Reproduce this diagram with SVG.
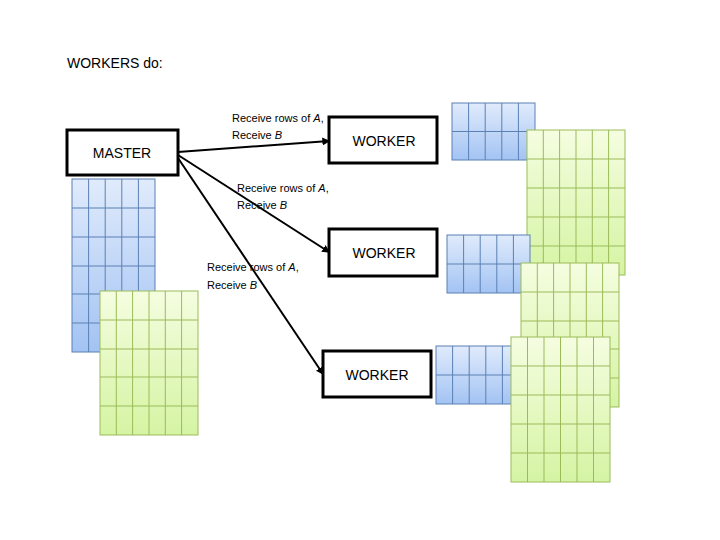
<svg xmlns="http://www.w3.org/2000/svg" width="720" height="540" viewBox="0 0 720 540">
<defs>
<linearGradient id="gb" x1="0" y1="0" x2="0" y2="1"><stop offset="0" stop-color="#e0ebfc"/><stop offset="1" stop-color="#a3c3f3"/></linearGradient>
<linearGradient id="gg" x1="0" y1="0" x2="0" y2="1"><stop offset="0" stop-color="#f5fde0"/><stop offset="1" stop-color="#d5f4a3"/></linearGradient>
<marker id="ar" viewBox="0 0 6 6" refX="5" refY="3" markerWidth="4" markerHeight="4" orient="auto"><path d="M0,0L6,3L0,6z" fill="#000"/></marker>
<pattern id="pb" width="16.6" height="29" patternUnits="userSpaceOnUse"><path d="M16.6,0V29M0,29H16.6" stroke="#5b80b4" stroke-width="1" fill="none"/></pattern>
</defs>
<style>
text{font-family:"Liberation Sans",Arial,sans-serif;fill:#000}
.box{fill:#fff;stroke:#000;stroke-width:3}
.bt{font-size:14px;text-anchor:middle}
.lb{font-size:11px}
.b{fill:url(#gb);stroke:#5b80b4;stroke-width:1}
.g{fill:url(#gg);stroke:#9bbb59;stroke-width:1}
.bl{stroke:#5b80b4;stroke-width:1}
.gl{stroke:#9bbb59;stroke-width:1}
.c{stroke:#000;stroke-width:2;fill:none;marker-end:url(#ar)}
</style>
<text x="67" y="68" font-size="14">WORKERS do:</text>

<g id="master-matrices">
<rect class="b" x="72" y="179" width="83" height="173"/>
<g class="bl"><path d="M88.6,179V352M105.2,179V352M121.8,179V352M138.4,179V352M72,208H155M72,237H155M72,266H155M72,294H155M72,323H155"/></g>
<rect class="g" x="100" y="291" width="98" height="144"/>
<g class="gl"><path d="M116.3,291V435M132.6,291V435M149,291V435M165.3,291V435M181.6,291V435M100,320H198M100,349H198M100,377H198M100,406H198"/></g>
</g>

<g id="master"><rect class="box" x="67" y="130" width="111" height="45"/><text class="bt" x="122" y="158">MASTER</text></g>

<g id="connectors">
<line class="c" x1="178" y1="152" x2="329" y2="141"/>
<line class="c" x1="178" y1="155" x2="329" y2="252"/>
<line class="c" x1="178" y1="158" x2="323" y2="374"/>
</g>
<g id="labels" class="lb">
<text class="lb" x="232" y="122">Receive rows of <tspan font-style="italic">A</tspan>,</text>
<text class="lb" x="232" y="139">Receive <tspan font-style="italic">B</tspan></text>
<text class="lb" x="237" y="192">Receive rows of <tspan font-style="italic">A</tspan>,</text>
<text class="lb" x="237" y="209">Receive <tspan font-style="italic">B</tspan></text>
<text class="lb" x="207" y="271">Receive rows of <tspan font-style="italic">A</tspan>,</text>
<text class="lb" x="207" y="289">Receive <tspan font-style="italic">B</tspan></text>
</g>

<g id="worker1">
<rect class="box" x="329" y="117" width="108" height="46"/><text class="bt" x="384" y="146">WORKER</text>
<rect class="b" x="452" y="103" width="83" height="57"/>
<g class="bl"><path d="M468.6,103V160M485.2,103V160M501.8,103V160M518.4,103V160M452,131.5H535"/></g>
<rect class="g" x="527" y="130" width="98" height="145"/>
<g class="gl"><path d="M543.3,130V275M559.6,130V275M576,130V275M592.3,130V275M608.6,130V275M527,159H625M527,188H625M527,217H625M527,246H625"/></g>
</g>

<g id="worker2">
<rect class="box" x="329" y="229" width="108" height="47"/><text class="bt" x="384" y="258">WORKER</text>
<rect class="b" x="447" y="235" width="83" height="58"/>
<g class="bl"><path d="M463.6,235V293M480.2,235V293M496.8,235V293M513.4,235V293M447,264H530"/></g>
<rect class="g" x="521" y="263" width="98" height="144"/>
<g class="gl"><path d="M537.3,263V407M553.6,263V407M570,263V407M586.3,263V407M602.6,263V407M521,292H619M521,321H619M521,349H619M521,378H619"/></g>
</g>

<g id="worker3">
<rect class="box" x="323" y="351" width="108" height="46"/><text class="bt" x="377" y="380">WORKER</text>
<rect class="b" x="436" y="346" width="83" height="58"/>
<g class="bl"><path d="M452.6,346V404M469.2,346V404M485.8,346V404M502.4,346V404M436,375H519"/></g>
<rect class="g" x="511" y="337" width="99" height="145"/>
<g class="gl"><path d="M527.5,337V482M544,337V482M560.5,337V482M577,337V482M593.5,337V482M511,366H610M511,395H610M511,424H610M511,453H610"/></g>
</g>
</svg>
